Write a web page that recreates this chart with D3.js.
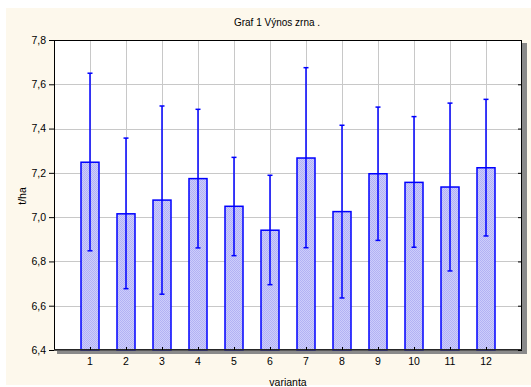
<!DOCTYPE html>
<html>
<head>
<meta charset="utf-8">
<script src="https://cdn.jsdelivr.net/npm/d3@7"></script>
<style>
  body { margin: 0; background: #fff; }
  text { font-family: "Liberation Sans", Arial, sans-serif; fill: #000; }
  .grid line { stroke: #c8c8c8; stroke-width: 1; }
  .bar { fill: url(#hatch); stroke: #0000ff; stroke-width: 1.5; }
  .err { stroke: #0000ff; stroke-width: 1.5; }
</style>
</head>
<body>
<svg id="chart" width="531" height="387"></svg>
<script>
const categories = ['1', '2', '3', '4', '5', '6', '7', '8', '9', '10', '11', '12'];
const means = [7.248, 7.015, 7.077, 7.174, 7.049, 6.941, 7.267, 7.025, 7.196, 7.157, 7.136, 7.223];
const upper = [7.650, 7.357, 7.502, 7.487, 7.270, 7.189, 7.675, 7.415, 7.497, 7.454, 7.515, 7.532];
const lower = [6.848, 6.677, 6.652, 6.861, 6.826, 6.695, 6.862, 6.635, 6.895, 6.864, 6.757, 6.915];
const yTicks = [6.4, 6.6, 6.8, 7.0, 7.2, 7.4, 7.6, 7.8];

const margin = {top: 40, right: 9, bottom: 37, left: 54};
const W = 531, H = 387;
const dim = {w: W - margin.left - margin.right, h: H - margin.top - margin.bottom};

const svg = d3.select('#chart');

// fine hatch, pale blue like the original
const pat = svg.append('defs').append('pattern')
  .attr('id', 'hatch').attr('width', 2).attr('height', 2)
  .attr('patternUnits', 'userSpaceOnUse');
pat.append('rect').attr('width', 2).attr('height', 2).attr('fill', '#cdcdfb');
pat.append('rect').attr('width', 1).attr('height', 1).attr('fill', '#b2b2f4');
pat.append('rect').attr('x', 1).attr('y', 1).attr('width', 1).attr('height', 1).attr('fill', '#b2b2f4');

svg.append('rect').attr('x', 6).attr('y', 8).attr('width', W - 6).attr('height', H - 10).attr('fill', '#fdf8ec');

const x = d3.scaleLinear().domain([0, categories.length + 1]).range([0, dim.w]);
const y = d3.scaleLinear().domain([6.4, 7.8]).range([dim.h, 0]);
const fmt = (d) => d3.format('.1f')(d).replace('.', ',');

const g = svg.append('g').attr('transform', `translate(${margin.left},${margin.top})`);

// shadow + plot background
g.append('rect').attr('x', 3).attr('y', 3).attr('width', dim.w + 2).attr('height', dim.h + 1).attr('fill', '#8a8a8a');
g.append('rect').attr('width', dim.w).attr('height', dim.h).attr('fill', '#fff');

const grid = g.append('g').attr('class', 'grid');
grid.selectAll('.hg').data(yTicks).enter().append('line')
  .attr('x1', 0).attr('x2', dim.w)
  .attr('y1', (d) => Math.round(y(d)) + 0.5).attr('y2', (d) => Math.round(y(d)) + 0.5);
grid.selectAll('.vg').data(categories).enter().append('line')
  .attr('x1', (d, i) => Math.round(x(i + 1)) + 0.5).attr('x2', (d, i) => Math.round(x(i + 1)) + 0.5)
  .attr('y1', 0).attr('y2', dim.h);

const bw = x(1) - x(0);
g.selectAll('.bar').data(means).enter().append('rect')
  .attr('class', 'bar')
  .attr('x', (d, i) => x(i + 1) - bw / 4)
  .attr('width', bw / 2)
  .attr('y', (d) => y(d))
  .attr('height', (d) => dim.h - y(d));

const errs = g.selectAll('.errg').data(categories).enter().append('g').attr('class', 'err');
errs.append('line')
  .attr('x1', (d, i) => x(i + 1)).attr('x2', (d, i) => x(i + 1))
  .attr('y1', (d, i) => y(upper[i])).attr('y2', (d, i) => y(lower[i]));
errs.append('line')
  .attr('x1', (d, i) => x(i + 1) - 2.5).attr('x2', (d, i) => x(i + 1) + 2.5)
  .attr('y1', (d, i) => y(upper[i])).attr('y2', (d, i) => y(upper[i]));
errs.append('line')
  .attr('x1', (d, i) => x(i + 1) - 2.5).attr('x2', (d, i) => x(i + 1) + 2.5)
  .attr('y1', (d, i) => y(lower[i])).attr('y2', (d, i) => y(lower[i]));

// frame
g.append('rect').attr('x', 0.5).attr('y', 0.5).attr('width', dim.w - 1).attr('height', dim.h - 1)
  .attr('fill', 'none').attr('stroke', '#000').attr('stroke-width', 1);
g.append('line').attr('x1', 0).attr('x2', dim.w).attr('y1', dim.h).attr('y2', dim.h)
  .attr('stroke', '#333').attr('stroke-width', 1.5);

// axes
const yAxis = g.append('g')
  .call(d3.axisLeft(y).tickValues(yTicks).tickSize(5).tickPadding(3).tickFormat(fmt));
yAxis.select('.domain').remove();
yAxis.selectAll('text').style('font-size', '10.5px');

const yAxisR = g.append('g').attr('transform', `translate(${dim.w},0)`)
  .call(d3.axisLeft(y).tickValues(yTicks).tickSize(4).tickFormat(''));
yAxisR.select('.domain').remove();

const xAxis = g.append('g').attr('transform', `translate(0,${dim.h})`)
  .call(d3.axisTop(x).tickValues(d3.range(1, categories.length + 1)).tickSize(3).tickFormat(''));
xAxis.select('.domain').remove();

g.selectAll('.xlab').data(categories).enter().append('text')
  .attr('x', (d, i) => x(i + 1)).attr('y', dim.h + 15)
  .attr('text-anchor', 'middle').style('font-size', '10.5px')
  .text((d) => d);

svg.append('text').attr('x', 277).attr('y', 26).attr('text-anchor', 'middle')
  .style('font-size', '10px').text('Graf 1 Výnos zrna .');
svg.append('text').attr('x', 288).attr('y', 386).attr('text-anchor', 'middle')
  .style('font-size', '10.5px').text('varianta');
svg.append('text').attr('transform', 'translate(26,196) rotate(-90)').attr('text-anchor', 'middle')
  .style('font-size', '10.5px').text('t/ha');
</script>
</body>
</html>
